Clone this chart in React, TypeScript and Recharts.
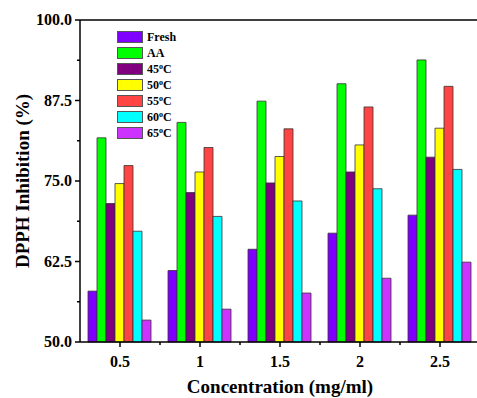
import React from 'react';
import { BarChart, Bar, XAxis, YAxis, Legend, ReferenceLine, Label } from 'recharts';

const concentrations = ['0.5', '1', '1.5', '2', '2.5'];
const fresh = [57.9, 61.1, 64.4, 66.9, 69.7];
const ascorbic = [81.7, 84.1, 87.4, 90.1, 93.8];
const t45 = [71.5, 73.2, 74.7, 76.4, 78.7];
const t50 = [74.6, 76.4, 78.8, 80.6, 83.2];
const t55 = [77.4, 80.2, 83.1, 86.5, 89.7];
const t60 = [67.2, 69.5, 71.9, 73.8, 76.8];
const t65 = [53.4, 55.1, 57.6, 59.9, 62.4];
const yTicks = [50, 56.25, 62.5, 68.75, 75, 81.25, 87.5, 93.75, 100];

const series = [
  { key: 'Fresh', values: fresh, color: '#7F00FF' },
  { key: 'AA', values: ascorbic, color: '#00FF00' },
  { key: '45', values: t45, color: '#800080' },
  { key: '50', values: t50, color: '#FFFF00' },
  { key: '55', values: t55, color: '#FF4444' },
  { key: '60', values: t60, color: '#00FFFF' },
  { key: '65', values: t65, color: '#CC33FF' },
];

const data = concentrations.map((c, i) => {
  const row: any = { conc: c };
  series.forEach(s => { row[s.key] = s.values[i]; });
  return row;
});

const FONT = '"Liberation Serif", "Times New Roman", serif';
const W = 500;
const H = 398;
const MARGIN = { top: 20, right: 20, left: 0, bottom: 0 };
const Y_WIDTH = 80;
const BAND = (W - MARGIN.left - MARGIN.right - Y_WIDTH) / concentrations.length;

const YTick = ({ x, y, payload, index }: any) => {
  const major = index % 2 === 0;
  return (
    <g>
      <line x1={x - (major ? 5 : 3)} x2={x} y1={y} y2={y} stroke="#000" strokeWidth={1.5} />
      {major && (
        <text x={x - 8} y={y} dy="0.34em" textAnchor="end" fontFamily={FONT} fontWeight="bold" fontSize={16} fill="#000">
          {payload.value.toFixed(1)}
        </text>
      )}
    </g>
  );
};

const XTick = ({ x, y, payload, index }: any) => (
  <g>
    <line x1={x} x2={x} y1={y} y2={y + 5} stroke="#000" strokeWidth={1.5} />
    {index < concentrations.length - 1 && (
      <line x1={x + BAND / 2} x2={x + BAND / 2} y1={y} y2={y + 3} stroke="#000" strokeWidth={1.5} />
    )}
    <text x={x} y={y + 25} textAnchor="middle" fontFamily={FONT} fontWeight="bold" fontSize={16} fill="#000">
      {payload.value}
    </text>
  </g>
);

// legend drawn in series order (recharts would sort it by name)
const LegendBox = () => (
  <div style={{ fontFamily: FONT, fontWeight: 'bold', fontSize: 12, color: '#000' }}>
    {series.map(s => (
      <div key={s.key} style={{ display: 'flex', alignItems: 'center', height: 16 }}>
        <span style={{ display: 'inline-block', width: 26, height: 12, boxSizing: 'border-box', background: s.color, border: '1px solid #555' }} />
        <span style={{ marginLeft: 4, lineHeight: '12px' }}>
          {/^\d+$/.test(s.key) ? (<>{s.key}<sup style={{ fontSize: 8, verticalAlign: 4, lineHeight: 0 }}>o</sup>C</>) : s.key}
        </span>
      </div>
    ))}
  </div>
);

export default function App() {
  return (
    <div style={{ position: 'absolute', left: 0, top: 0, width: 477, height: 398, overflow: 'hidden', background: '#fff' }}>
      <BarChart width={W} height={H} data={data} margin={MARGIN} barCategoryGap={8} barGap={0}>
        <XAxis
          dataKey="conc"
          height={56}
          axisLine={{ stroke: '#000', strokeWidth: 1.5 }}
          tickLine={false}
          tickSize={0}
          tickMargin={0}
          tick={<XTick />}
          interval={0}
        >
          <Label value="Concentration (mg/ml)" position="insideBottom" offset={5}
            style={{ fontFamily: FONT, fontWeight: 'bold', fontSize: 19, fill: '#000' }} />
        </XAxis>
        <YAxis
          type="number"
          domain={[50, 100]}
          ticks={yTicks}
          interval={0}
          width={Y_WIDTH}
          axisLine={{ stroke: '#000', strokeWidth: 1.5 }}
          tickLine={false}
          tickSize={0}
          tickMargin={0}
          tick={<YTick />}
        >
          <Label
            content={({ viewBox }: any) => {
              const cx = viewBox.x + 22;
              const cy = viewBox.y + viewBox.height / 2;
              return (
                <text x={cx} y={cy} transform={`rotate(-90, ${cx}, ${cy})`} textAnchor="middle" dominantBaseline="central"
                  fontFamily={FONT} fontWeight="bold" fontSize={19} fill="#000">
                  DPPH Inhibition (%)
                </text>
              );
            }}
          />
        </YAxis>
        <ReferenceLine y={100} stroke="#000" strokeWidth={1.5} />
        <Legend layout="vertical" align="center" verticalAlign="middle" content={<LegendBox />}
          wrapperStyle={{ top: 29, left: 117, width: 'auto', height: 'auto' }} />
        {series.map(s => (
          <Bar key={s.key} dataKey={s.key} fill={s.color} stroke="#333" strokeWidth={0.8} isAnimationActive={false} />
        ))}
      </BarChart>
    </div>
  );
}
